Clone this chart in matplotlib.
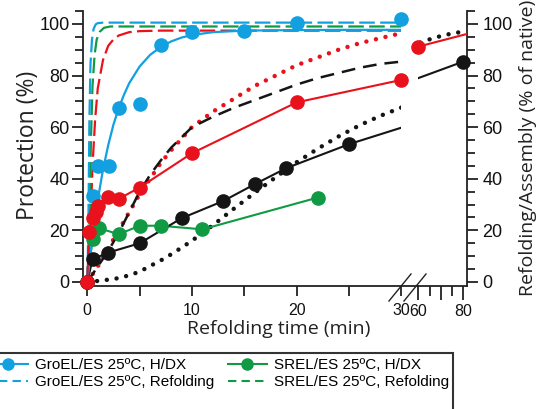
import numpy as np
import matplotlib
matplotlib.use("Agg")
import matplotlib.pyplot as plt
from matplotlib.lines import Line2D
from matplotlib.patches import Rectangle

# ---------------- data ----------------
# H/DX protection data (markers)
groel_t = [0.5, 1.05, 2.05, 3.0, 5.0, 7.0, 10.0, 15.0, 20.0, 30.0]
groel_v = [33.3, 45.0, 45.0, 67.3, 69.0, 91.9, 96.8, 97.3, 100.5, 101.8]
# smooth fit through GroEL/ES H/DX data
groel_fit_t = [0, 0.5, 1, 1.5, 2, 2.5, 3, 3.5, 4, 5, 6, 7, 8, 9, 10, 12, 15, 20, 25, 30]
groel_fit_v = [0, 17.5, 31.8, 43.5, 53, 61, 67.3, 72.5, 77, 83.5, 88, 91, 93.2, 94.7,
               95.7, 96.8, 97.4, 97.6, 97.7, 97.7]

srel_t = [0, 0.5, 1.15, 3.0, 5.0, 7.0, 11.0, 22.0]
srel_v = [0, 16.5, 20.8, 18.5, 21.8, 21.8, 20.4, 32.7]

red_t = [0, 0.15, 0.5, 0.8, 1.05, 2.0, 3.0, 5.0, 10.0, 20.0, 30.0, 60.0, 90.0]
red_v = [0, 19.3, 24.7, 27.0, 29.5, 33.0, 32.2, 36.6, 49.9, 69.6, 78.3, 91.2, 98.0]

black_t = [0, 0.5, 2.0, 5.0, 9.0, 13.0, 16.0, 19.0, 25.0, 40.0, 80.0]
black_v = [0, 8.8, 11.4, 15.0, 24.7, 31.4, 37.9, 44.1, 53.4, 72.6, 85.4]

# refolding curves (dashed / dotted)
groel_ref_t = [0, 0.1, 0.2, 0.3, 0.45, 0.6, 0.8, 1.0, 1.5, 30]
groel_ref_v = [0, 20, 62, 84, 94, 98, 99.8, 100.3, 100.5, 100.5]
srel_ref_t = [0, 0.2, 0.35, 0.5, 0.7, 0.9, 1.2, 1.6, 2.2, 30]
srel_ref_v = [0, 20, 55, 76, 88, 94, 97, 98.5, 99, 99]
red_ref_t = [0, 0.3, 0.5, 0.75, 1.0, 1.5, 2.0, 2.5, 3.0, 4.0, 5.0, 7.0, 30]
red_ref_v = [0, 22, 45, 63, 75, 86, 91.5, 94, 95.5, 96.8, 97.2, 97.4, 97.4]
red_dot_t = [0, 1, 2, 3, 4, 5, 6, 7, 8, 10, 12, 14, 16, 18, 20, 22, 24, 26, 28, 30]
red_dot_v = [0, 6, 13, 20, 27, 34, 40, 46, 51, 60, 66, 71, 76, 80, 84, 87, 90, 92.5, 94.5, 96.4]
black_dash_t = [0, 1, 2, 3, 4, 5, 6, 7, 8, 10, 12, 14, 16, 18, 20, 22, 24, 26, 28, 30]
black_dash_v = [0, 6, 12, 19, 27, 35, 41.5, 47, 52, 60, 64, 67.5, 70.5, 73.5, 76.5, 79, 81,
                83, 84.5, 85.4]
black_dot_t = [0, 1, 2, 3, 4, 5, 6, 7, 8, 9, 10, 11, 12, 13, 14, 15, 16, 18, 20, 22, 24, 26,
               28, 30, 60, 65, 70, 75, 80]
black_dot_v = [0, 0.4, 0.9, 1.5, 2.6, 4.0, 6.2, 8.3, 10.7, 13.3, 16.0, 19.0, 22.0, 25.2, 28.4,
               31.5, 34.6, 40.6, 46.4, 51.6, 56.4, 60.7, 64.4, 67.6, 92.5, 94.0, 95.3, 96.3, 97.0]

yticks = [0, 20, 40, 60, 80, 100]
xticks1 = [0, 10, 20, 30]
xticks2 = [60, 70, 80]
xlabels2 = ["60", "", "80"]

# ---------------- style ----------------
BLUE = "#12a0e0"
GREEN = "#0f9a43"
RED = "#e8111c"
BLACK = "#151515"
TICKFONT = "Liberation Sans"
LABELFONT = "Open Sans"

W, H = 546, 409
fig = plt.figure(figsize=(W / 100, H / 100), dpi=100)


def fx(px):
    return px / W


def fy(py):
    return 1 - py / H


L1, R1, L2, R2, TOP, BOT = 83.3, 401.4, 418.3, 467.3, 11.0, 286.0
ax1 = fig.add_axes([fx(L1), fy(BOT), fx(R1) - fx(L1), fy(TOP) - fy(BOT)])
ax2 = fig.add_axes([fx(L2), fy(BOT), fx(R2) - fx(L2), fy(TOP) - fy(BOT)])
ax1.set_xlim(-0.38, 30)
ax2.set_xlim(60, 81.78)
for ax in (ax1, ax2):
    ax.set_ylim(-1.55, 105)
    ax.patch.set_alpha(0)
    ax.spines["top"].set_visible(False)
    for s in ax.spines.values():
        s.set_linewidth(1.3)
        s.set_color("#222222")

ax1.spines["right"].set_visible(False)
ax2.spines["left"].set_visible(False)


def curve(t, v, **kw):
    for ax in (ax1, ax2):
        ax.plot(t, v, **kw)


def markers(t, v, color, z):
    t = np.asarray(t)
    v = np.asarray(v)
    for ax in (ax1, ax2):
        lo, hi = ax.get_xlim()
        m = (t >= lo) & (t <= hi)
        ax.plot(t[m], v[m], "o", ms=9.5, color=color, mec=color, zorder=z, clip_on=False)


dot_kw = dict(lw=3.2, linestyle=(0, (0.01, 2.2)), dash_capstyle="round")
curve(black_dot_t, black_dot_v, color=BLACK, zorder=2, **dot_kw)
curve(red_dot_t, red_dot_v, color=RED, zorder=2, **dot_kw)
curve(black_dash_t, black_dash_v, color=BLACK, lw=1.8, linestyle=(0, (5.5, 3.2)), zorder=2)
curve(red_ref_t, red_ref_v, color=RED, lw=1.6, linestyle=(0, (7, 2.4)), zorder=2)
curve(srel_ref_t, srel_ref_v, color=GREEN, lw=1.6, linestyle=(0, (7, 2.4)), zorder=2)
curve(groel_ref_t, groel_ref_v, color=BLUE, lw=1.6, linestyle=(0, (7, 2.4)), zorder=2)

curve(srel_t, srel_v, color=GREEN, lw=1.5, zorder=3)
curve(black_t, black_v, color=BLACK, lw=1.5, zorder=3)
curve(groel_fit_t, groel_fit_v, color=BLUE, lw=1.6, zorder=3)
curve(red_t, red_v, color=RED, lw=1.5, zorder=3)

markers(srel_t, srel_v, GREEN, 5)
markers(black_t, black_v, BLACK, 5)
markers(groel_t, groel_v, BLUE, 6)
markers(red_t, red_v, RED, 7)

# ticks
ax1.set_yticks(yticks)
ax1.set_yticks(np.arange(0, 106, 5), minor=True)
ax1.tick_params(axis="y", which="major", direction="out", length=8, width=1.3,
                labelsize=13, pad=2, colors="#222222", labelcolor="#111111")
ax1.tick_params(axis="y", which="minor", direction="out", length=5.5, width=1.3, colors="#222222")
ax1.set_xticks(xticks1)
ax1.set_xticks([5, 15, 25], minor=True)
ax1.tick_params(axis="x", which="both", direction="out", length=7, width=1.3,
                labelsize=11.5, pad=5, colors="#222222", labelcolor="#111111")

ax2.set_yticks(yticks)
ax2.set_yticks(np.arange(0, 106, 5), minor=True)
ax2.yaxis.tick_right()
ax2.tick_params(axis="y", which="major", direction="out", length=8, width=1.3,
                labelsize=13, pad=3, colors="#222222", labelcolor="#111111")
ax2.tick_params(axis="y", which="minor", direction="out", length=5.5, width=1.3, colors="#222222")
ax2.set_xticks(xticks2)
ax2.set_xticklabels(xlabels2)
ax2.set_xticks([65, 75], minor=True)
ax2.tick_params(axis="x", which="major", direction="out", length=10, width=1.3,
                labelsize=11.5, pad=3, colors="#222222", labelcolor="#111111")
ax2.tick_params(axis="x", which="minor", direction="out", length=7, width=1.3, colors="#222222")
for ax in (ax1, ax2):
    for lab in ax.get_xticklabels() + ax.get_yticklabels():
        lab.set_fontfamily(TICKFONT)

# bottom spine across the gap and break marks
fig.add_artist(Line2D([fx(R1), fx(L2)], [fy(BOT), fy(BOT)], color="#222222", lw=1.3,
                      transform=fig.transFigure))
for x0 in (389, 404):
    fig.add_artist(Line2D([fx(x0), fx(x0 + 22)], [fy(301), fy(274)], color="#222222",
                          lw=1.0, transform=fig.transFigure))

# axis labels
fig.text(fx(279), fy(329), "Refolding time (min)", ha="center", va="center",
         fontsize=14, family=LABELFONT, color="#222222")
fig.text(fx(28), fy(145), "Protection (%)", ha="center", va="center", rotation=90,
         fontsize=16.5, family=LABELFONT, color="#222222")
fig.text(fx(528), fy(148), "Refolding/Assembly (% of native)", ha="center", va="center",
         rotation=90, fontsize=14, family=LABELFONT, color="#222222")

# legend
handles = [
    Line2D([], [], color=BLUE, lw=1.5, marker="o", ms=8),
    Line2D([], [], color=BLUE, lw=1.5, linestyle=(0, (4, 2.5))),
    Line2D([], [], color=GREEN, lw=1.5, marker="o", ms=8),
    Line2D([], [], color=GREEN, lw=1.5, linestyle=(0, (4, 2.5))),
]
labels = ["GroEL/ES 25ºC, H/DX", "GroEL/ES 25ºC, Refolding",
          "SREL/ES 25ºC, H/DX", "SREL/ES 25ºC, Refolding"]
fig.legend(handles, labels, loc="upper left", bbox_to_anchor=(fx(-12), fy(358)),
           ncol=2, frameon=False, prop={"family": TICKFONT, "size": 11},
           handlelength=2.6, handletextpad=0.45, columnspacing=0.9, labelspacing=0.2,
           borderaxespad=0, borderpad=0)
fig.add_artist(Rectangle((fx(-5), fy(430)), fx(453.3) - fx(-5), fy(353.3) - fy(430),
                         transform=fig.transFigure, fill=False, ec="#333333", lw=1.5))

fig.savefig("out.png", dpi=100)
